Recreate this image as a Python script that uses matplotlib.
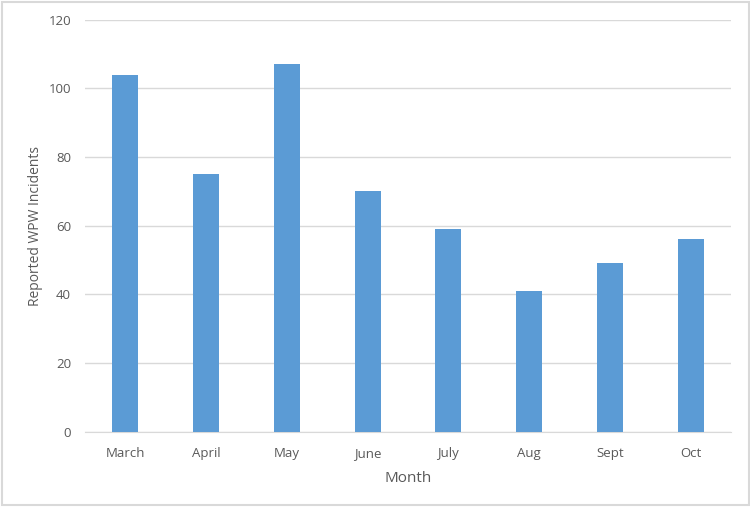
import matplotlib.pyplot as plt
from matplotlib.patches import Rectangle

months = ["March", "April", "May", "June", "July", "Aug", "Sept", "Oct"]
incidents = [104, 75, 107, 70, 59, 41, 49, 56]
yticks = [0, 20, 40, 60, 80, 100, 120]

plt.rcParams['font.family'] = ['Open Sans', 'DejaVu Sans']

fig = plt.figure(figsize=(7.5, 5.07), dpi=100)
ax = fig.add_axes([0.1133, 0.1485, 0.8614, 0.8126])

x = range(len(months))
ax.bar(x, incidents, width=0.32, color="#5B9BD5", zorder=3)

ax.set_xlim(-0.5, len(months) - 0.5)
ax.set_ylim(0, 120)
ax.set_yticks(yticks)
ax.set_xticks(list(x))
ax.set_xticklabels(months)
ax.grid(axis='y', color="#D9D9D9", linewidth=1, zorder=0)
ax.tick_params(length=0, labelsize=9.5, colors="#595959")
ax.tick_params(axis='x', pad=11)
ax.tick_params(axis='y', pad=10)
for s in ['top', 'right', 'left']:
    ax.spines[s].set_visible(False)
ax.spines['bottom'].set_color("#D9D9D9")

ax.set_xlabel("Month", fontsize=11, color="#595959", labelpad=8)
ax.set_ylabel("Reported WPW Incidents", fontsize=10, color="#595959", labelpad=4)

# light frame around the chart
fig.patches.append(Rectangle((0.002, 0.003), 0.996, 0.994, transform=fig.transFigure,
                             fill=False, edgecolor="#D9D9D9", linewidth=1.5))

fig.savefig("out.png", dpi=100)
